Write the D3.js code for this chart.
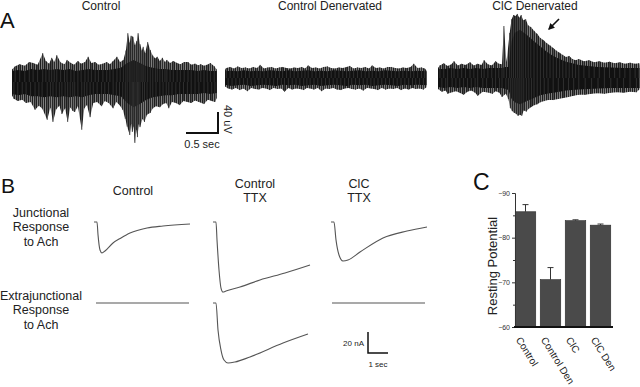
<!DOCTYPE html>
<html><head><meta charset="utf-8">
<script src="https://cdn.jsdelivr.net/npm/d3@7"></script>
<style>body{margin:0;background:#fff}svg{display:block;font-family:"Liberation Sans",Arial,sans-serif}</style>
</head><body><svg id="c" width="640" height="387"></svg>
<script>
// ---------- Panel A: extracellular recordings (dense-core envelopes in uV, time in s) ----------
const ctlTimes = [0,0.1,0.2,0.3,0.4,0.5,0.6,0.7,0.8,0.9,1.0,1.1,1.2,1.3,1.4,1.5,1.6,1.7,1.8,1.9,2.0,2.1,2.2,2.3,2.4,2.5,2.6,2.7,2.8,2.9,3.0,3.1,3.2];
const ctlHi = [21,23,21,25,23,25,23,25,23,25,21,23,25,23,23,23,25,27,36,42,36,30,27,25,25,23,23,23,23,21,23,21,21];
const ctlLo = [23,25,23,27,27,29,27,29,27,29,27,29,25,23,23,23,25,27,40,48,42,34,29,27,25,25,23,23,23,23,21,23,21];
const ctlSpikes = [[0.05,30],[0.12,34],[0.2,31],[0.27,38],[0.33,36],[0.4,33],[0.48,55],[0.53,40],[0.58,35],[0.62,46],[0.66,38],[0.70,51],[0.76,37],[0.82,34],[0.86,42],[0.92,36],[0.97,33],[1.03,40],[1.08,35],[1.14,38],[1.19,48],[1.24,36],[1.30,38],[1.35,33],[1.42,35],[1.48,38],[1.53,34],[1.58,40],[1.64,48],[1.69,38],[1.74,42],[1.78,60],[1.81,93],[1.84,75],[1.86,88],[1.89,86],[1.92,70],[1.95,78],[1.97,93],[2.0,72],[2.03,60],[2.05,67],[2.08,55],[2.12,76],[2.16,61],[2.2,50],[2.24,45],[2.27,48],[2.31,40],[2.35,46],[2.39,38],[2.42,42],[2.47,36],[2.52,40],[2.58,36],[2.63,34],[2.69,38],[2.75,38],[2.8,33],[2.86,35],[2.91,32],[2.95,34],[3.0,31],[3.05,33],[3.1,36],[3.16,30],
  [0.03,-32],[0.09,-36],[0.16,-34],[0.22,-40],[0.29,-38],[0.36,-53],[0.42,-45],[0.47,-50],[0.55,-72],[0.6,-48],[0.64,-76],[0.69,-52],[0.74,-45],[0.78,-61],[0.83,-50],[0.87,-76],[0.91,-48],[0.95,-55],[0.98,-57],[1.03,-46],[1.09,-91],[1.13,-50],[1.17,-44],[1.22,-67],[1.27,-40],[1.33,-38],[1.40,-46],[1.45,-36],[1.51,-40],[1.58,-50],[1.63,-38],[1.68,-44],[1.73,-53],[1.77,-70],[1.80,-85],[1.84,-101],[1.86,-80],[1.88,-95],[1.90,-85],[1.92,-116],[1.94,-90],[1.96,-105],[1.98,-80],[2.0,-86],[2.04,-70],[2.07,-76],[2.11,-62],[2.16,-59],[2.2,-50],[2.25,-46],[2.31,-48],[2.36,-42],[2.41,-40],[2.45,-50],[2.5,-38],[2.56,-40],[2.62,-44],[2.68,-36],[2.74,-38],[2.8,-40],[2.86,-35],[2.92,-38],[3.0,-42],[3.06,-34],[3.12,-36],[3.17,-38]];

const denTimes = [0,0.1,0.2,0.3,0.4,0.5,0.6,0.7,0.8,0.9,1.0,1.1,1.2,1.3,1.4,1.5,1.6,1.7,1.8,1.9,2.0,2.1,2.2,2.3,2.4,2.5,2.6,2.7,2.8,2.9,3.0,3.15];
const denHi = [13,14,13,15,13,14,13,15,14,13,15,13,14,15,13,14,13,15,14,13,14,15,13,14,13,15,14,13,14,13,14,13];
const denLo = [13,15,14,13,15,14,13,14,15,13,14,13,15,14,13,15,14,13,14,15,13,14,13,15,14,13,14,15,13,14,13,14];
const denSpikes = [[0.02,19],[0.08,21],[0.14,18],[0.2,22],[0.26,19],[0.32,20],[0.38,18],[0.44,21],[0.5,19],[0.55,25],[0.61,18],[0.67,20],[0.73,21],[0.79,18],[0.85,20],[0.9,21],[0.96,19],[1.02,18],[1.08,20],[1.14,19],[1.2,21],[1.25,18],[1.3,24],[1.36,19],[1.42,20],[1.48,18],[1.54,21],[1.6,22],[1.66,19],[1.72,18],[1.78,20],[1.84,19],[1.9,21],[1.95,23],[2.01,18],[2.07,20],[2.13,19],[2.19,21],[2.25,18],[2.3,24],[2.36,19],[2.42,20],[2.48,18],[2.54,21],[2.6,21],[2.66,19],[2.72,18],[2.78,20],[2.84,19],[2.9,21],[2.95,27],[3.01,19],[3.07,20],[3.12,18],
  [0.05,-20],[0.11,-22],[0.17,-19],[0.23,-23],[0.29,-20],[0.35,-25],[0.41,-19],[0.47,-21],[0.53,-22],[0.58,-19],[0.64,-20],[0.7,-23],[0.76,-19],[0.82,-21],[0.88,-20],[0.93,-26],[0.99,-19],[1.05,-22],[1.11,-20],[1.17,-21],[1.23,-23],[1.28,-19],[1.33,-20],[1.39,-22],[1.45,-19],[1.51,-25],[1.57,-20],[1.63,-21],[1.69,-19],[1.75,-22],[1.81,-23],[1.87,-20],[1.93,-19],[1.98,-21],[2.04,-22],[2.1,-20],[2.16,-24],[2.22,-19],[2.28,-20],[2.33,-21],[2.39,-23],[2.45,-19],[2.51,-22],[2.57,-20],[2.63,-21],[2.69,-19],[2.75,-23],[2.81,-20],[2.87,-22],[2.93,-19],[2.98,-21],[3.04,-20],[3.1,-22]];

const clcTimes = [0,0.1,0.2,0.3,0.4,0.5,0.6,0.7,0.8,0.9,1.0,1.05,1.1,1.15,1.2,1.28,1.39,1.5,1.6,1.7,1.8,1.9,2.0,2.1,2.2,2.35,2.5,2.7,2.9,3.15];
const clcHi = [17,17,19,17,19,17,19,17,19,19,19,21,21,70,86,92,82,70,60,50,42,36,31,28,25,23,21,20,19,19];
const clcLo = [17,19,17,19,17,19,17,19,19,19,19,21,23,40,46,50,44,38,33,30,28,26,24,23,22,21,20,19,19,19];
const clcSpikes = [[0.03,24],[0.09,28],[0.15,23],[0.21,26],[0.25,32],[0.31,24],[0.37,27],[0.43,25],[0.5,30],[0.56,24],[0.62,27],[0.68,25],[0.72,34],[0.78,26],[0.84,24],[0.9,32],[0.95,27],[1.0,26],[1.03,99],[1.07,30],
  [1.12,86],[1.15,112],[1.18,120],[1.21,118],[1.24,122],[1.27,115],[1.3,120],[1.33,110],[1.37,112],[1.41,100],[1.45,97],[1.5,90],[1.55,84],[1.6,76],[1.65,72],[1.7,66],[1.75,62],[1.8,57],[1.85,52],[1.9,48],[1.95,44],[2.0,40],[2.05,42],[2.1,36],[2.15,34],[2.2,36],[2.28,32],[2.36,34],[2.44,30],[2.52,32],[2.6,29],[2.68,31],[2.76,28],[2.84,30],[2.92,27],[3.0,29],[3.08,27],[3.14,28],
  [0.06,-26],[0.12,-24],[0.15,-30],[0.22,-27],[0.28,-25],[0.34,-28],[0.4,-32],[0.46,-26],[0.52,-24],[0.58,-28],[0.62,-34],[0.7,-26],[0.76,-27],[0.85,-30],[0.9,-25],[0.96,-28],[1.0,-36],[1.06,-30],
  [1.1,-40],[1.13,-57],[1.16,-63],[1.19,-66],[1.22,-68],[1.25,-72],[1.28,-70],[1.31,-72],[1.34,-62],[1.38,-64],[1.42,-58],[1.46,-55],[1.5,-52],[1.55,-50],[1.6,-46],[1.66,-44],[1.72,-42],[1.8,-42],[1.88,-40],[1.96,-38],[2.04,-36],[2.12,-34],[2.2,-32],[2.3,-32],[2.4,-30],[2.5,-29],[2.6,-30],[2.7,-28],[2.8,-27],[2.9,-28],[3.0,-26],[3.1,-27]];

const aTitles = ["Control","Control Denervated","ClC Denervated"];

// ---------- Panel B: whole-cell currents (time s, current nA) ----------
const bJuncCtl = [[0,0],[0.15,0],[0.2,-12],[0.3,-26.7],[0.4,-29.5],[0.55,-27.6],[0.95,-20],[1.35,-15.2],[1.8,-10.5],[2.65,-5.7],[3.45,-3.8],[4.8,-1.9]];
const bJuncCtlTTX = [[0,0],[0.15,0],[0.2,-17],[0.3,-45.7],[0.4,-62.9],[0.5,-66.7],[0.65,-65.7],[1.35,-61.9],[2.35,-55.2],[3.6,-48.6],[4.85,-41]];
const bJuncClcTTX = [[0,0],[0.15,0],[0.25,-17],[0.4,-31.4],[0.6,-37.1],[0.85,-36.2],[1.45,-28.6],[2.6,-15.2],[3.8,-8.6],[4.8,-4.8]];
const bExtraCtl = [[0,0],[4.65,0]];
const bExtraCtlTTX = [[0,0],[0.15,0],[0.25,-25.7],[0.4,-44.8],[0.55,-54.3],[0.75,-57.1],[1.1,-56.2],[1.85,-51.4],[3.5,-38.1],[4.75,-29.5]];
const bExtraClcTTX = [[0,0],[4.65,0]];
const bColTitles = [["Control"],["Control","TTX"],["ClC","TTX"]];
const bRowTitles = [["Junctional","Response","to Ach"],["Extrajunctional","Response","to Ach"]];

// ---------- Panel C: resting potential (mV) ----------
const cCategories = ["Control","Control Den","ClC","ClC Den"];
const cValues = [-85.8,-70.6,-83.8,-82.8];
const cErrors = [1.6,2.7,0.2,0.25];
const cTicks = [-90,-80,-70,-60];
const cMinorTicks = [-85,-75,-65];

const svg = d3.select("#c");
const defs = svg.append("defs");
const pat = defs.append("pattern").attr("id","hair").attr("patternUnits","userSpaceOnUse")
  .attr("width",2).attr("height",4);
pat.append("rect").attr("x",0).attr("y",0).attr("width",1.2).attr("height",4).attr("fill","#1e1e1e");
pat.append("rect").attr("x",1.2).attr("y",0).attr("width",0.8).attr("height",4).attr("fill","#6a6a6a");

// ===== Panel A =====
const xA = d3.scaleLinear().domain([0,1]).range([0,64]);
const yA = d3.scaleLinear().domain([0,40]).range([0,-21]);
const aTraces = [
  {t:ctlTimes,hi:ctlHi,lo:ctlLo,sp:ctlSpikes,x0:12,cy:82,tx:101},
  {t:denTimes,hi:denHi,lo:denLo,sp:denSpikes,x0:225,cy:78,tx:330},
  {t:clcTimes,hi:clcHi,lo:clcLo,sp:clcSpikes,x0:438,cy:78,tx:535}
];
const areaA = d3.area().x(d=>xA(d.t)).y0(d=>yA(-d.lo)).y1(d=>yA(d.hi));
const fringe = d3.area().x(d=>xA(d[0])).y0(0).y1(d=>yA(d[1]));
aTraces.forEach((tr,i)=>{
  const g = svg.append("g").attr("transform",`translate(${tr.x0},${tr.cy})`);
  const tEnd = tr.t[tr.t.length-1];
  const up = tr.sp.filter(d=>d[1]>0).sort((a,b)=>a[0]-b[0]);
  const dn = tr.sp.filter(d=>d[1]<0).sort((a,b)=>a[0]-b[0]);
  [up,dn].forEach(s=>{
    const pts = [[0,s[0][1]*0.8]].concat(s,[[tEnd,s[s.length-1][1]*0.8]]);
    g.append("path").datum(pts).attr("d",fringe).attr("fill","url(#hair)");
  });
  const pts = tr.t.map((t,j)=>({t:t,hi:tr.hi[j],lo:tr.lo[j]}));
  g.append("path").datum(pts).attr("d",areaA).attr("fill","#111");
  g.selectAll("line.sp").data(tr.sp).enter().append("line")
    .attr("x1",d=>xA(d[0])).attr("x2",d=>xA(d[0]))
    .attr("y1",0).attr("y2",d=>yA(d[1]))
    .attr("stroke","#333").attr("stroke-width",0.9);
  svg.append("text").attr("x",tr.tx).attr("y",10).attr("text-anchor","middle")
    .attr("font-size",12).attr("fill","#222").text(aTitles[i]);
});
svg.append("text").attr("x",0).attr("y",28).attr("font-size",22).attr("fill","#111").text("A");
// arrow
defs.append("marker").attr("id","ah").attr("viewBox","0 0 10 10")
  .attr("refX",8).attr("refY",5).attr("markerWidth",4).attr("markerHeight",4).attr("orient","auto")
  .append("path").attr("d","M0,0L10,5L0,10z").attr("fill","#111");
svg.append("line").attr("x1",559).attr("y1",19).attr("x2",549).attr("y2",29)
  .attr("stroke","#111").attr("stroke-width",1.6).attr("marker-end","url(#ah)");
// scale bar A
{
  const bx = 218, by = 133;
  svg.append("path").attr("d",`M${bx+xA(-0.5)},${by}H${bx}V${by+yA(40)}`)
    .attr("fill","none").attr("stroke","#111").attr("stroke-width",2);
  svg.append("text").attr("x",bx+xA(-0.25)).attr("y",148).attr("text-anchor","middle")
    .attr("font-size",11).attr("fill","#222").text("0.5 sec");
  svg.append("text").attr("transform",`translate(${bx+6},${by+yA(26)}) rotate(90)`)
    .attr("text-anchor","middle").attr("font-size",11).attr("fill","#222").text("40 uV");
}

// ===== Panel B =====
const xB = d3.scaleLinear().domain([0,1]).range([0,20]);
const yB = d3.scaleLinear().domain([0,20]).range([0,-21]);
const lineB = d3.line().x(d=>xB(d[0])).y(d=>yB(d[1])).curve(d3.curveMonotoneX);
const bTraces = [
  {d:bJuncCtl,x:94,y:222},{d:bJuncCtlTTX,x:213,y:222},{d:bJuncClcTTX,x:331,y:222},
  {d:bExtraCtl,x:96,y:303},{d:bExtraCtlTTX,x:213,y:303},{d:bExtraClcTTX,x:332,y:303}
];
bTraces.forEach(tr=>{
  svg.append("path").datum(tr.d).attr("transform",`translate(${tr.x},${tr.y})`)
    .attr("d",lineB).attr("fill","none").attr("stroke","#555").attr("stroke-width",1.1);
});
svg.append("text").attr("x",1).attr("y",193).attr("font-size",21).attr("fill","#111").text("B");
const colX = [133,255,359];
bColTitles.forEach((lines,i)=>{
  const base = lines.length===1 ? 195 : 188;
  lines.forEach((s,k)=>svg.append("text").attr("x",colX[i]).attr("y",base+k*14)
    .attr("text-anchor","middle").attr("font-size",12.5).attr("fill","#222").text(s));
});
const rowY = [217,300];
bRowTitles.forEach((lines,i)=>{
  lines.forEach((s,k)=>svg.append("text").attr("x",41).attr("y",rowY[i]+k*14.3)
    .attr("text-anchor","middle").attr("font-size",12.5).attr("fill","#222").text(s));
});
{
  const bx = 368, by = 353;
  svg.append("path").attr("d",`M${bx},${by+yB(20)}V${by}H${bx+xB(1)}`)
    .attr("fill","none").attr("stroke","#111").attr("stroke-width",1.5);
  svg.append("text").attr("x",bx-4).attr("y",346).attr("text-anchor","end")
    .attr("font-size",8).attr("fill","#222").text("20 nA");
  svg.append("text").attr("x",bx+xB(0.5)).attr("y",367).attr("text-anchor","middle")
    .attr("font-size",8).attr("fill","#222").text("1 sec");
}

// ===== Panel C =====
const xC = d3.scaleBand().domain(cCategories).range([514,612]).paddingInner(0.18).paddingOuter(0.05);
const yC = d3.scaleLinear().domain([-60,-90]).range([327,193]);
svg.append("text").attr("x",473).attr("y",190).attr("font-size",23).attr("fill","#111").text("C");
const gy = svg.append("g").attr("transform","translate(515,0)")
  .call(d3.axisLeft(yC).tickValues(cTicks).tickSize(3).tickPadding(2).tickFormat(d3.format("d")));
gy.select(".domain").attr("stroke","#333");
gy.selectAll("text").attr("font-size",7).attr("fill","#333").attr("font-family","Liberation Sans, Arial, sans-serif");
gy.selectAll("line").attr("stroke","#333");
svg.append("g").attr("transform","translate(515,0)")
  .call(d3.axisLeft(yC).tickValues(cMinorTicks).tickSize(2).tickFormat(""))
  .call(g=>g.select(".domain").remove()).selectAll("line").attr("stroke","#333");
svg.selectAll("rect.bar").data(cValues).enter().append("rect")
  .attr("x",(d,i)=>xC(cCategories[i])).attr("width",xC.bandwidth())
  .attr("y",d=>yC(d)).attr("height",d=>yC(-60)-yC(d))
  .attr("fill","#4a4a4a").attr("stroke","#2a2a2a").attr("stroke-width",0.6);
cValues.forEach((v,i)=>{
  const cx = xC(cCategories[i])+xC.bandwidth()/2;
  svg.append("path").attr("d",`M${cx},${yC(v)}V${yC(v-cErrors[i])}M${cx-3},${yC(v-cErrors[i])}H${cx+3}`)
    .attr("stroke","#333").attr("stroke-width",1).attr("fill","none");
  svg.append("text").attr("transform",`translate(${cx-4},${336}) rotate(58)`)
    .attr("font-size",10).attr("fill","#222").attr("dy","0.7em").text(cCategories[i]);
});
svg.append("line").attr("x1",514).attr("x2",613).attr("y1",yC(-60)).attr("y2",yC(-60))
  .attr("stroke","#111").attr("stroke-width",2);
svg.append("text").attr("transform",`translate(497,266) rotate(-90)`).attr("text-anchor","middle")
  .attr("font-size",13).attr("fill","#222").text("Resting Potential");
</script></body></html>
